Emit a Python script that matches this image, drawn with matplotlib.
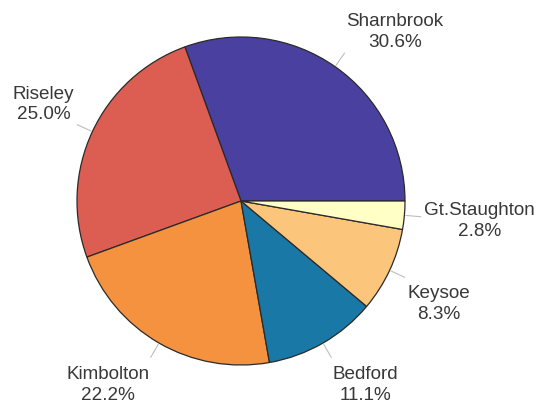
import numpy as np
import matplotlib
matplotlib.use("Agg")
import matplotlib.pyplot as plt

categories = ["Sharnbrook", "Riseley", "Kimbolton", "Bedford", "Keysoe", "Gt.Staughton"]
counts = [11, 9, 8, 4, 3, 1]
colors = ["#4a40a0", "#dc5e52", "#f5923f", "#1a78a6", "#fbc67b", "#ffffc6"]

W, H = 534, 403
fig = plt.figure(figsize=(W / 100, H / 100), dpi=100)
ax = fig.add_axes([0, 0, 1, 1])

cx, cy, R = 241, 202, 164
wedges, _ = ax.pie(counts, colors=colors, startangle=0, counterclock=True,
                   radius=1.0,
                   wedgeprops=dict(edgecolor="#2a2a2a", linewidth=0.9))
ax.set_aspect("auto")
ax.set_xlim(-cx / R, (W - cx) / R)
ax.set_ylim(-cy / R, (H - cy) / R)
ax.axis("off")

total = sum(counts)
for w, name, c in zip(wedges, categories, counts):
    mid = np.deg2rad((w.theta1 + w.theta2) / 2)
    ca, sa = np.cos(mid), np.sin(mid)
    ax.plot([1.01 * ca, 1.10 * ca], [1.01 * sa, 1.10 * sa], color="#bdbdbd", lw=0.8)
    pct = 100 * c / total
    ha = "left" if ca >= 0 else "right"
    if abs(sa) < 0.2:
        va, dy = "center", -3
    elif sa > 0:
        va, dy = "bottom", 0
    else:
        va, dy = "top", -4.5
    ax.annotate(f"{name}\n{pct:.1f}%", xy=(1.12 * ca, 1.12 * sa),
                xytext=(0, dy), textcoords="offset points",
                ha=ha, va=va, multialignment="center",
                fontsize=13.6, color="#383838", family=["Liberation Sans", "DejaVu Sans"],
                linespacing=1.28)

fig.savefig("out.png", dpi=100)
